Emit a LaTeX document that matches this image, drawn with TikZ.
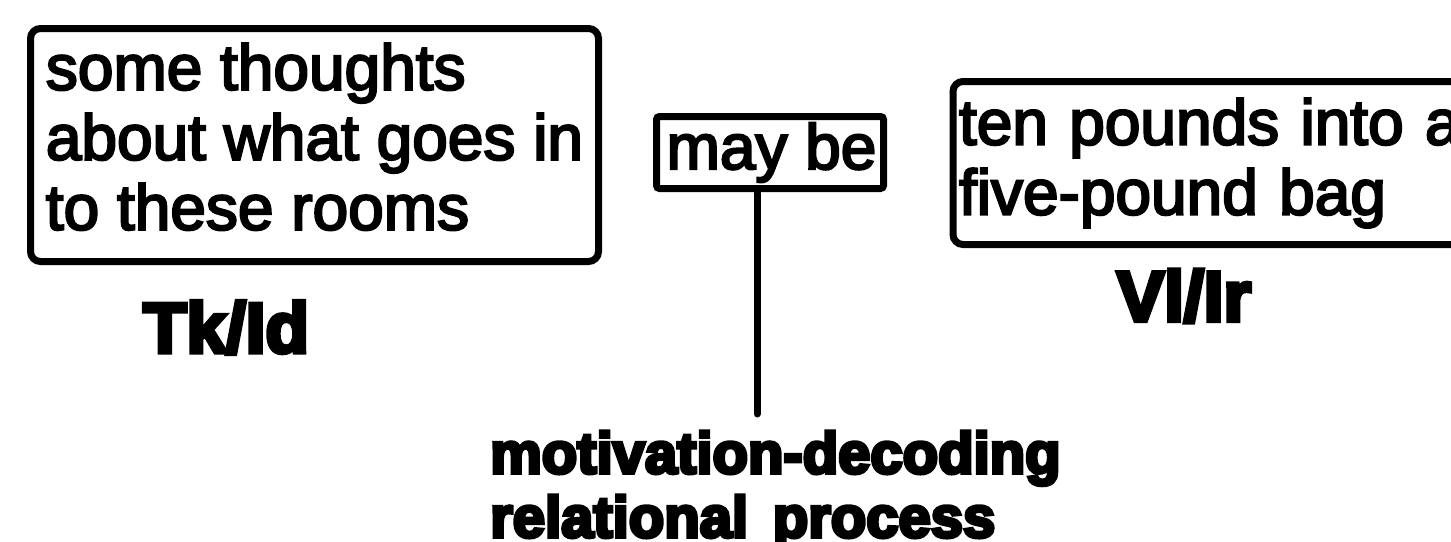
\documentclass[tikz,border=0pt]{standalone}
\usepackage{fontspec}
\setmainfont{Liberation Sans}
\newfontfamily\boxfont{Liberation Sans}[FakeBold=3.5]
\newfontfamily\labelfont{Liberation Sans}[BoldFeatures={FakeBold=6}]
\begin{document}
\begin{tikzpicture}[x=1pt,y=-1pt,
  framebox/.style={draw, line width=7pt, rounded corners=10pt, inner sep=0pt},
  boxtext/.style={font=\boxfont\fontsize{64}{70}\selectfont, align=left},
  tag/.style={font=\labelfont\bfseries\fontsize{71}{75}\selectfont, inner sep=0pt},
  process/.style={font=\labelfont\bfseries\fontsize{58}{64}\selectfont, align=left, inner sep=0pt},
  stemline/.style={line width=7pt, line cap=round}]
\useasboundingbox (0,0) rectangle (1451,541);
\clip (0,0) rectangle (1451,541);

% left frame and its label
\node[framebox, boxtext, minimum width=568pt, minimum height=233pt, text depth=17pt]
  (thoughts) at (314.5,145) {some thoughts\\about what goes in\\to these rooms};
\node[tag] (tkid) at (226,327.5) {Tk/Id};

% middle frame with the stem hanging from it
\node[framebox, rounded corners=3pt, boxtext, minimum width=227pt, minimum height=72pt]
  (maybe) at (770,152.5) {\hspace*{3pt}may be};
\coordinate (stemfoot) at (757,414);
\draw[stemline] (maybe.south -| stemfoot) -- (stemfoot);

% right frame, running off the edge
\node[framebox, boxtext, anchor=west, text width=520pt, inner xsep=6pt, minimum height=163pt]
  (bag) at (949.5,163) {ten pounds into a\\five-pound bag};
\node[tag] (vlir) at (1184,296) {Vl/Ir};

% process label under the stem
\node[process, anchor=north west] (relproc) at (490,431)
  {motivation-decoding\\relational\hspace{0.15em} process};
\end{tikzpicture}
\end{document}
